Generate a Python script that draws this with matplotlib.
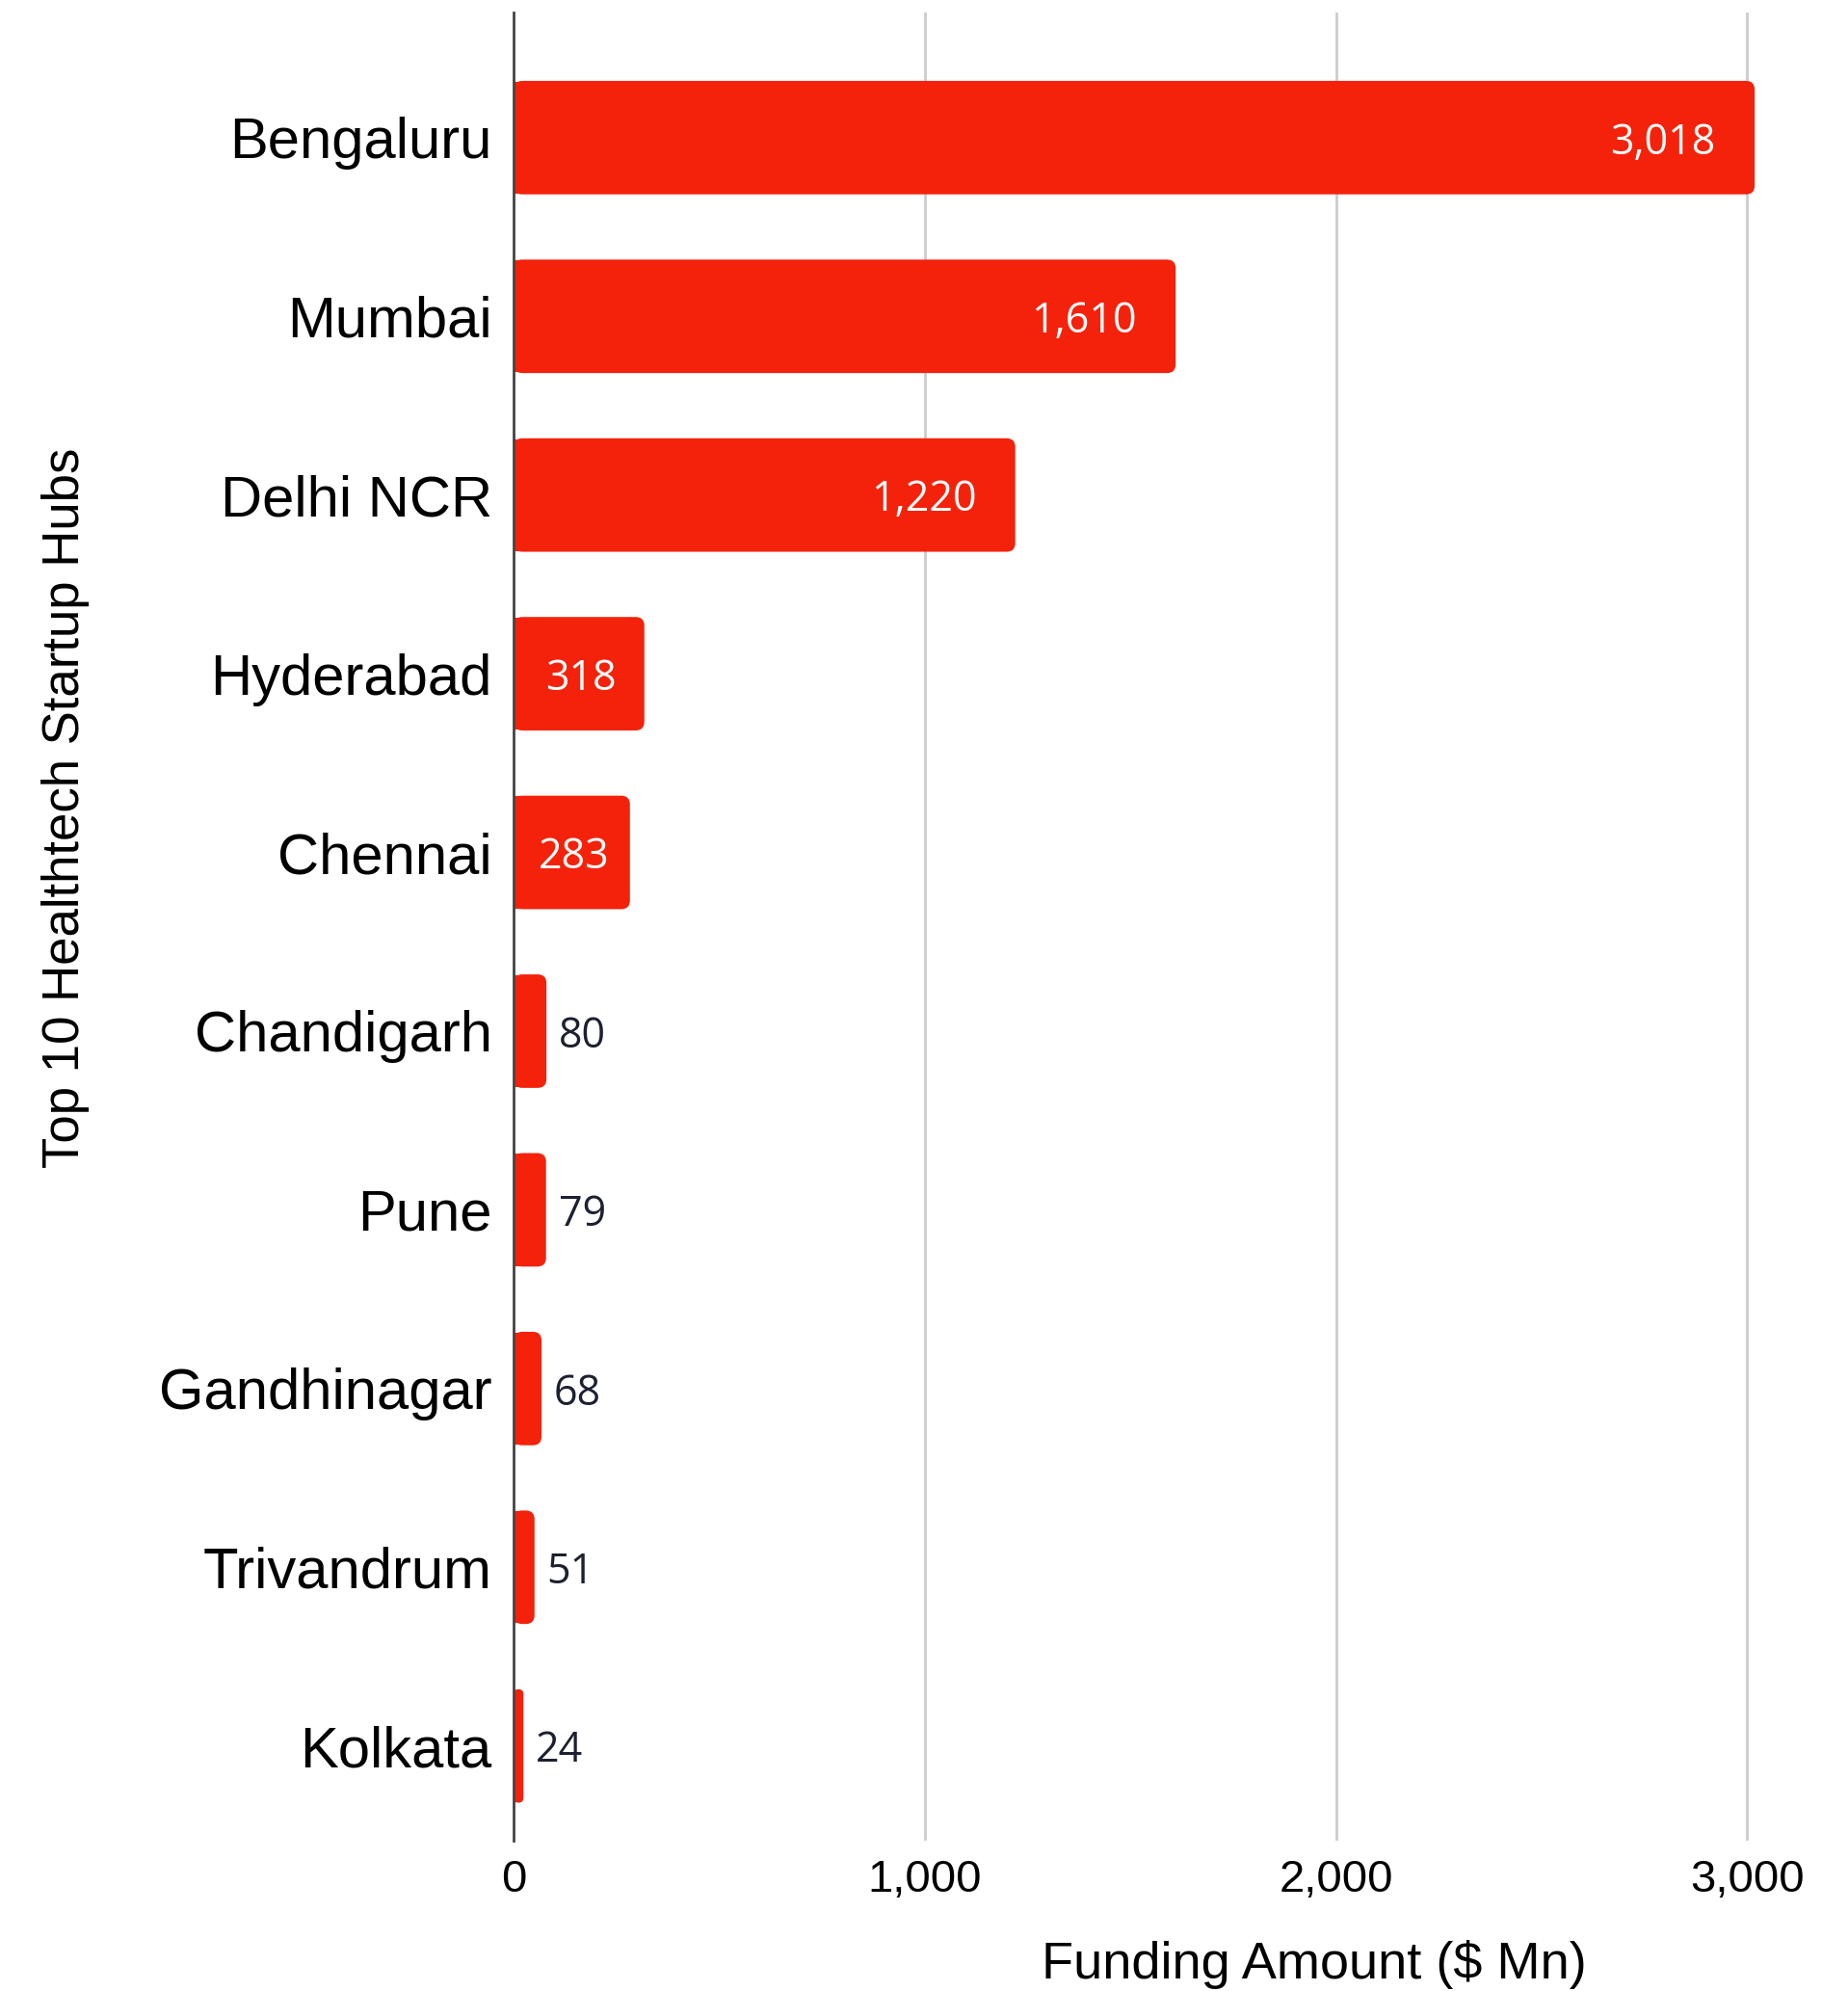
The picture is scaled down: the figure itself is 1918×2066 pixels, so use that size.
import matplotlib
matplotlib.use("Agg")
import matplotlib.pyplot as plt
from matplotlib.patches import FancyBboxPatch, Rectangle
import logging
logging.getLogger('matplotlib.font_manager').setLevel(logging.ERROR)

cities = ["Bengaluru", "Mumbai", "Delhi NCR", "Hyderabad", "Chennai",
          "Chandigarh", "Pune", "Gandhinagar", "Trivandrum", "Kolkata"]
funding = [3018, 1610, 1220, 318, 283, 80, 79, 68, 51, 24]
xticks = [0, 1000, 2000, 3000]
xtick_labels = ["0", "1,000", "2,000", "3,000"]

BAR = "#F4220B"
W, H = 1918, 2066
fig = plt.figure(figsize=(W / 100, H / 100), dpi=100)
fig.patch.set_facecolor("white")

ax = fig.add_axes([533 / W, 1 - 1910 / H, 1 - 533 / W, (1910 - 13) / H])
ax.set_facecolor("none")
ypos = list(range(len(cities)))
bars = ax.barh(ypos, funding, height=0.635, color=BAR, zorder=3)

ax.set_xlim(0, 3245)
ax.set_ylim(9.53, -0.70)

# rounded right ends (left corners squared by an extra rectangle)
xpx = (W - 533) / 3245.0
ypx = (1910 - 13) / (9.53 + 0.70)
r_px = 9
rx = r_px / xpx
ry = r_px / ypx
for b in bars:
    x0, y0, w, h = b.get_x(), b.get_y(), b.get_width(), b.get_height()
    b.set_visible(False)
    rr = min(rx, w / 2.0)
    p = FancyBboxPatch((x0, y0), w, h,
                       boxstyle=f"round,pad=0,rounding_size={rr}",
                       mutation_aspect=ry / rx, facecolor=BAR, edgecolor="none", zorder=3)
    ax.add_patch(p)
    ax.add_patch(Rectangle((x0, y0 + 0.004), rr * 1.2, h - 0.008, facecolor=BAR,
                           edgecolor="none", zorder=3))

# value labels
for y, v in zip(ypos, funding):
    lab = f"{v:,}"
    if v >= 1000:
        ax.text(v - 95, y, lab, ha="right", va="center_baseline", color="white",
                fontsize=31, family="Open Sans", zorder=4)
    elif v >= 200:
        ax.text(v / 2.0 + 5, y, lab, ha="center", va="center_baseline", color="white",
                fontsize=31, family="Open Sans", zorder=4)
    else:
        ax.text(v + 30, y, lab, ha="left", va="center_baseline", color="#1c2030",
                fontsize=31, family="Open Sans", zorder=4)

ax.set_xticks(xticks)
ax.set_xticklabels(xtick_labels, fontsize=34, family=["Liberation Sans Narrow", "Liberation Sans"])
ax.set_yticks(ypos)
ax.set_yticklabels(cities, fontsize=43, family="Liberation Sans")
ax.tick_params(axis="both", length=0)
ax.tick_params(axis="y", pad=16)
ax.tick_params(axis="x", pad=14)

ax.grid(axis="x", color="#cccccc", linewidth=2, zorder=1)
ax.grid(axis="y", visible=False)
for s in ["top", "right", "bottom"]:
    ax.spines[s].set_visible(False)
ax.spines["left"].set_color("#444444")
ax.spines["left"].set_linewidth(2)
ax.spines["left"].set_zorder(5)

fig.text(1364 / W, 1 - 2039 / H, "Funding Amount ($ Mn)", ha="center", va="center",
         fontsize=39, family=["Liberation Sans Narrow", "Liberation Sans"])
fig.text(68 / W, 1 - 838 / H, "Top 10 Healthtech Startup Hubs", ha="center", va="center",
         rotation=90, fontsize=38, family="Liberation Sans")

fig.savefig("out.png", dpi=100, facecolor="white")
